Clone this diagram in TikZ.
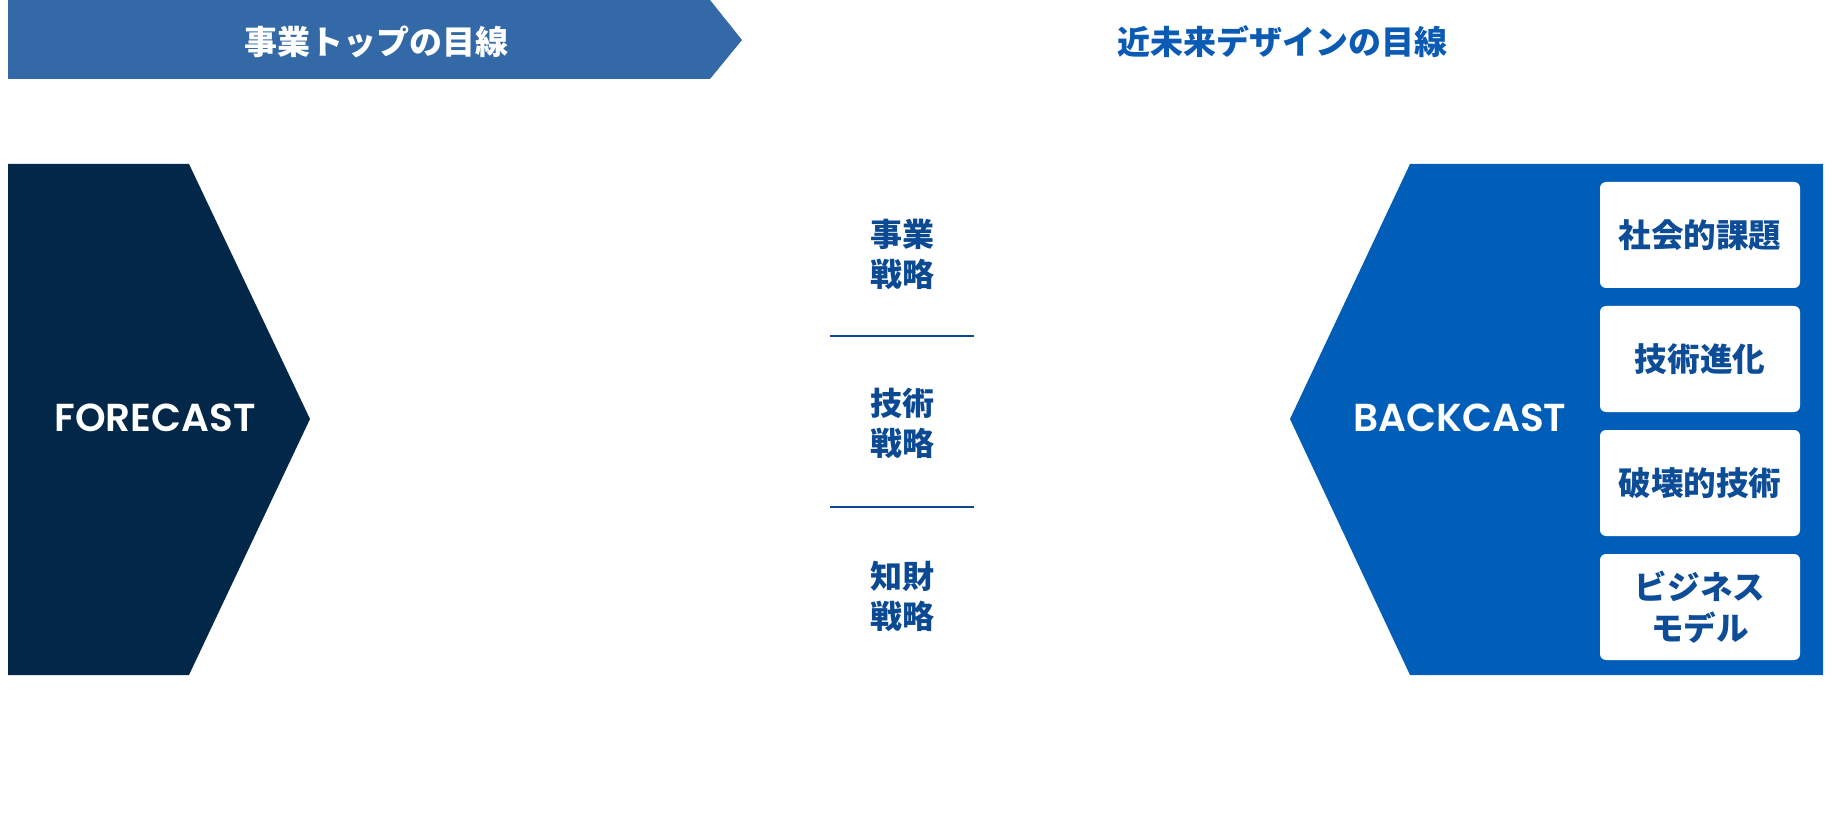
\documentclass[tikz,border=0pt]{standalone}
\usepackage{fontspec}
\setmainfont{Noto Sans CJK JP}
\newfontfamily\latinfont{Poppins}[UprightFont=* SemiBold]
\definecolor{banner}{HTML}{3469A8}
\definecolor{navy}{HTML}{032749}
\definecolor{bblue}{HTML}{005EB8}
\definecolor{midtxt}{HTML}{0B4A92}
\definecolor{boxtxt}{HTML}{0D4C97}
\definecolor{headtxt}{HTML}{0B5BB5}
\tikzset{
  headlabel/.style={font=\fontsize{16.5pt}{20pt}\selectfont\bfseries, inner sep=0pt},
  midlabel/.style={font=\fontsize{16pt}{20pt}\selectfont\bfseries, text=midtxt, align=center, inner sep=0pt},
  castlabel/.style={font=\fontsize{19.5pt}{22pt}\selectfont\latinfont, text=white, inner sep=0pt},
  sidebox/.style={fill=white, rounded corners=3pt, minimum width=100pt, minimum height=53pt, inner sep=0pt, align=center,
    font=\fontsize{16.3pt}{20.5pt}\selectfont\bfseries, text=boxtxt},
  sepline/.style={draw=midtxt, line width=1pt}
}
\begin{document}
\begin{tikzpicture}[x=0.5pt,y=-0.5pt]
\useasboundingbox (0,0) rectangle (1832,834);
% top banner
\fill[banner] (8,0) -- (710,0) -- (742,40) -- (710,79) -- (8,79) -- cycle;
\node[headlabel, text=white] (lefthead) at (376,42) {事業トップの目線};
\node[headlabel, text=headtxt] (righthead) at (1282,42) {近未来デザインの目線};
% forecast shape
\fill[navy] (8,164) -- (189,164) -- (310,419) -- (189,675) -- (8,675) -- cycle;
\node[castlabel] (fore) at (155,418) {FORECAST};
% backcast shape
\fill[bblue] (1410,164) -- (1823,164) -- (1823,675) -- (1410,675) -- (1290,419) -- cycle;
\node[castlabel] (back) at (1460,418) {BACKCAST};
% side boxes
\node[sidebox] (b1) at (1700,235) {社会的課題};
\node[sidebox] (b2) at (1700,359) {技術進化};
\node[sidebox] (b3) at (1700,483) {破壊的技術};
\node[sidebox] (b4) at (1700,607) {ビジネス\\モデル};
% middle labels
\node[midlabel] (m1) at (902,254) {事業\\戦略};
\node[midlabel] (m2) at (902,423) {技術\\戦略};
\node[midlabel] (m3) at (902,596) {知財\\戦略};
\coordinate (l1a) at (830,336);
\coordinate (l1b) at (974,336);
\coordinate (l2a) at (830,507);
\coordinate (l2b) at (974,507);
\draw[sepline] (l1a) -- (l1b);
\draw[sepline] (l2a) -- (l2b);
\end{tikzpicture}
\end{document}
